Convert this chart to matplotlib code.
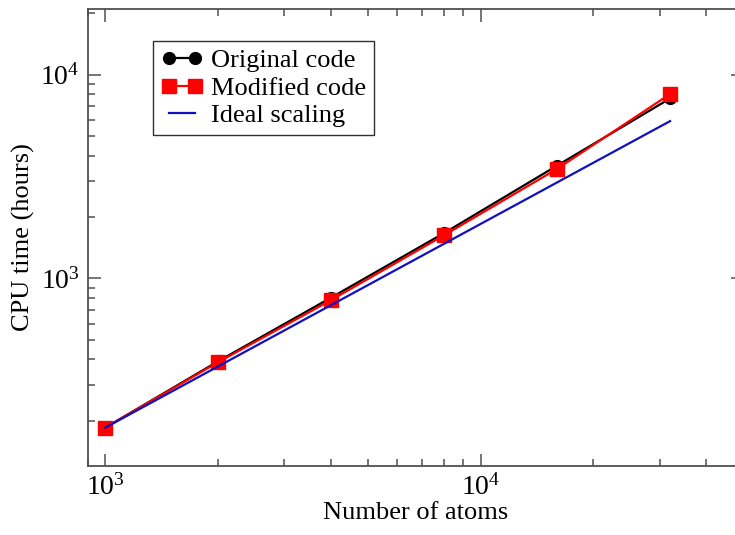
import numpy as np
import matplotlib
matplotlib.use("Agg")
from matplotlib import pyplot as plt

# ---------------------------------------
# Data
# ---------------------------------------
n_atoms = [1000, 2000, 4000, 8000, 16000, 32000]
cpu_original = [185, 392, 805, 1670, 3580, 7650]
cpu_modified = [185, 388, 783, 1630, 3450, 8040]
cpu_ideal = [185, 370, 740, 1480, 2960, 5920]

plt.rcParams['font.family'] = ['Liberation Serif', 'DejaVu Serif']
plt.rcParams['mathtext.fontset'] = 'stix'

fig = plt.figure(figsize=(7.35, 5.35), dpi=100)
ax = fig.add_axes([0.1197, 0.129, 0.891, 0.854])

ax.plot(n_atoms, cpu_original, color='black', lw=1.6, marker='o', ms=8.5,
        label='Original code', zorder=2)
ax.plot(n_atoms, cpu_modified, color='#ff0000', lw=1.6, marker='s', ms=9.5,
        label='Modified code', zorder=3)
ax.plot(n_atoms, cpu_ideal, color='#1010c0', lw=1.6,
        label='Ideal scaling', zorder=4)

ax.set_xscale('log')
ax.set_yscale('log')
ax.set_xlim(900, 50000)
ax.set_ylim(120, 21000)

ax.set_xlabel('Number of atoms', fontsize=19, labelpad=1)
ax.set_ylabel('CPU time (hours)', fontsize=19, labelpad=4)

for side in ['left', 'right', 'top', 'bottom']:
    ax.spines[side].set_color('#505050')
    ax.spines[side].set_linewidth(1.3)

ax.tick_params(which='both', direction='in', top=True, right=True,
               colors='#505050', labelcolor='black', labelsize=20, width=1.1)
ax.tick_params(which='major', length=9, pad=6)
ax.tick_params(which='minor', length=5)

leg = ax.legend(loc='upper left', bbox_to_anchor=(0.099, 0.93), fontsize=19,
                numpoints=2, handlelength=1.6, handletextpad=0.3,
                labelspacing=0.15, borderpad=0.3, borderaxespad=0,
                fancybox=False, edgecolor='#303030', framealpha=1)
leg.get_frame().set_linewidth(1.0)

fig.savefig('out.png', dpi=100)
